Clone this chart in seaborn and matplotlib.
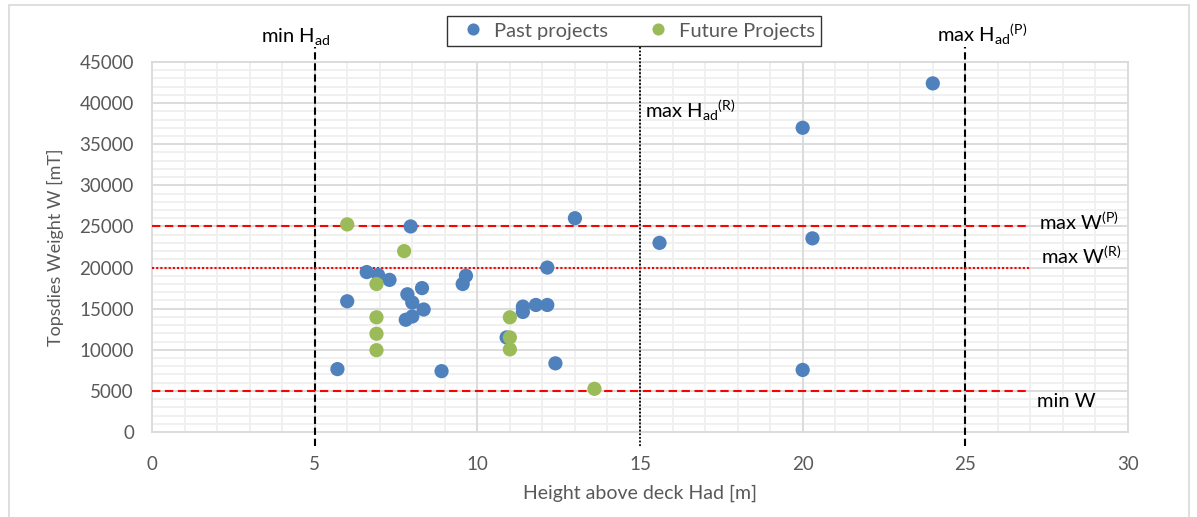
import matplotlib
matplotlib.use("Agg")
import matplotlib.pyplot as plt
import seaborn as sns
import pandas as pd
import numpy as np
from matplotlib.patches import Rectangle

# ---- data ----
past_h = [24.0, 20.0, 13.0, 7.95, 15.6, 20.3, 12.15, 6.6, 6.95, 7.3, 9.65, 9.55,
          8.3, 7.85, 8.0, 6.0, 8.35, 8.0, 7.8, 11.4, 11.4, 11.8, 12.15, 10.9,
          12.4, 8.9, 5.7, 20.0]
past_w = [42400, 37000, 26000, 25000, 23000, 23550, 20000, 19450, 19100, 18500,
          19000, 18000, 17500, 16750, 15750, 15900, 14900, 14050, 13650, 15250,
          14600, 15450, 15450, 11500, 8350, 7400, 7650, 7550]
future_h = [6.0, 7.75, 6.9, 6.9, 6.9, 6.9, 11.0, 11.0, 11.0, 13.6]
future_w = [25250, 22000, 18000, 13950, 11950, 9950, 13950, 11500, 10050, 5250]
series_names = ["Past projects", "Future Projects"]

vline_x = [5, 15, 25]
vline_styles = ["dashed", "dotted", "dashed"]
vline_labels = ["min H$_\\mathrm{ad}$", "max H$_\\mathrm{ad}$$^\\mathrm{(R)}$",
                "max H$_\\mathrm{ad}$$^\\mathrm{(P)}$"]
hline_y = [25000, 20000, 5000]
hline_styles = ["dashed", "dotted", "dashed"]
hline_labels = ["max W$^\\mathrm{(P)}$", "max W$^\\mathrm{(R)}$", "min W"]

x_ticks = [0, 5, 10, 15, 20, 25, 30]
y_ticks = list(range(0, 45001, 5000))

df = pd.DataFrame({
    "h": past_h + future_h,
    "w": past_w + future_w,
    "series": [series_names[0]] * len(past_h) + [series_names[1]] * len(future_h),
})

# ---- style ----
sns.set_theme(style="white")
plt.rcParams["font.family"] = ["Lato", "DejaVu Sans"]
plt.rcParams["mathtext.fontset"] = "custom"
plt.rcParams["mathtext.rm"] = "Lato"
plt.rcParams["mathtext.it"] = "Lato:italic"
plt.rcParams["mathtext.bf"] = "Lato:bold"

GRAY_TXT = "#595959"
fig = plt.figure(figsize=(11.97, 5.17), dpi=100)
ax = fig.add_axes([152 / 1197, 1 - 432 / 517, (1128 - 152) / 1197, (432 - 62) / 517])

fig.patches.append(Rectangle((9 / 1197, -0.02), 1180 / 1197, 1 - 5 / 517 + 0.02,
                             transform=fig.transFigure, fill=False,
                             edgecolor="#d9d9d9", linewidth=1.2))

sns.scatterplot(data=df, x="h", y="w", hue="series",
                palette={series_names[0]: "#4f81bd", series_names[1]: "#9bbb59"},
                s=105, linewidth=0, ax=ax, zorder=5, clip_on=False)

ax.set_xlim(0, 30)
ax.set_ylim(0, 45000)
ax.set_xticks(x_ticks)
ax.set_yticks(y_ticks)
ax.set_yticklabels([str(v) for v in y_ticks])

# grid: minor first (below), major on top
for v in np.arange(1, 30, 1):
    if v % 5:
        ax.axvline(v, color="#efefef", lw=1.3, zorder=0.5)
for v in np.arange(1000, 45000, 1000):
    if v % 5000:
        ax.axhline(v, color="#efefef", lw=1.3, zorder=0.5)
for v in x_ticks[1:-1]:
    ax.axvline(v, color="#d9d9d9", lw=1.3, zorder=0.6)
for v in y_ticks[1:-1]:
    ax.axhline(v, color="#d9d9d9", lw=1.3, zorder=0.6)

for sp in ax.spines.values():
    sp.set_color("#d9d9d9")
    sp.set_linewidth(1.3)
ax.tick_params(axis="both", which="both", length=0, labelsize=13.5, colors=GRAY_TXT)
ax.tick_params(axis="x", pad=17)
ax.tick_params(axis="y", pad=13)

ax.set_xlabel("Height above deck Had [m]", fontsize=14, color=GRAY_TXT, labelpad=9)
ax.set_ylabel("Topsdies Weight W [mT]", fontsize=13, color=GRAY_TXT, labelpad=11)

# reference lines
v_extent = (-1700, 46800)
for x, ls in zip(vline_x, vline_styles):
    if ls == "dashed":
        ax.plot([x, x], v_extent, color="black", lw=1.5, linestyle=(0, (3.5, 1.8)),
                clip_on=False, zorder=4)
    else:
        ax.plot([x, x], v_extent, color="black", lw=1.3, linestyle=(0, (1, 1)),
                clip_on=False, zorder=4)
h_extent = (0, 27)
for y, ls in zip(hline_y, hline_styles):
    if ls == "dashed":
        ax.plot(h_extent, [y, y], color="#ff0000", lw=1.5, linestyle=(0, (4, 2.2)),
                zorder=4)
    else:
        ax.plot(h_extent, [y, y], color="#ff0000", lw=1.5, linestyle=(0, (1, 1)),
                zorder=4)

# annotations
fs = 14.5
ax.text(4.4, 47400, vline_labels[0], ha="center", va="baseline", fontsize=fs,
        color="black", clip_on=False)
ax.text(15.15, 38200, vline_labels[1], ha="left", va="baseline", fontsize=fs,
        color="black")
ax.text(25.5, 47450, vline_labels[2], ha="center", va="baseline", fontsize=fs,
        color="black", clip_on=False)
ax.text(27.27, 24600, hline_labels[0], ha="left", va="baseline", fontsize=fs,
        color="black")
ax.text(27.33, 20450, hline_labels[1], ha="left", va="baseline", fontsize=fs,
        color="black")
ax.text(27.2, 3050, hline_labels[2], ha="left", va="baseline", fontsize=fs,
        color="black")

# legend
sns.move_legend(ax, "center", bbox_to_anchor=(634 / 1197, 1 - 31 / 517),
                bbox_transform=fig.transFigure, ncol=2, title=None, frameon=True,
                fontsize=14.5, handletextpad=0.05, columnspacing=1.5,
                borderpad=0.3, fancybox=False, markerscale=0.85)
leg = ax.get_legend()
leg.get_frame().set_edgecolor("black")
leg.get_frame().set_linewidth(1.0)
for t in leg.get_texts():
    t.set_color(GRAY_TXT)

fig.savefig("out.png", dpi=100)
